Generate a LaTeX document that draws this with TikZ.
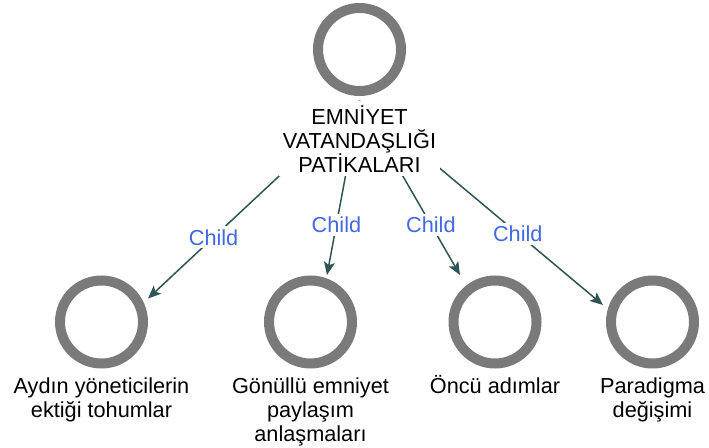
\documentclass[tikz,border=0pt]{standalone}
\usepackage{fontspec}
\setmainfont{Liberation Sans}
\usetikzlibrary{arrows.meta,backgrounds}
\definecolor{ringgray}{RGB}{122,122,122}
\definecolor{linkteal}{RGB}{47,84,84}
\definecolor{childblue}{RGB}{65,105,225}
\newcommand{\capstrut}{\rule{0pt}{18bp}}
\begin{document}
\begin{tikzpicture}[x=1bp,y=-1bp,
  ring/.style={circle,draw=ringgray,line width=10bp,minimum size=83bp,inner sep=0pt},
  caption/.style={anchor=north,align=center,inner sep=0pt,
    font=\fontsize{21.7bp}{24bp}\selectfont,yshift=-6.5bp},
  link/.style={draw=linkteal,line width=1.5bp,
    -{Stealth[length=13bp,width=11bp,inset=3bp]}},
  tag/.style={fill=white,text=childblue,inner sep=3bp,pos=0.7,
    font=\fontsize{21.7bp}{24bp}\selectfont}]
\useasboundingbox (0,0) rectangle (709,448);

% root
\node[ring] (c0) at (359.5,49.5) {};
\node[caption,fill=white,inner sep=4bp,yshift=1.5bp] (l0) at (c0.south)
  {\capstrut EMNİYET\\VATANDAŞLIĞI\\PATİKALARI};

% children
\node[ring] (c1) at (101.5,322) {};
\node[ring] (c2) at (310.5,322) {};
\node[ring] (c3) at (495,322) {};
\node[ring] (c4) at (652.5,322) {};

\node[caption] (l1) at (c1.south) {\capstrut Aydın yöneticilerin\\ektiği tohumlar};
\node[caption] (l2) at (c2.south) {\capstrut Gönüllü emniyet\\paylaşım\\anlaşmaları};
\node[caption] (l3) at (c3.south) {\capstrut Öncü adımlar};
\node[caption] (l4) at (c4.south) {\capstrut Paradigma\\değişimi};

% links, kept behind the root caption
\begin{scope}[on background layer]
\draw[link] (l0.north) -- node[tag,pos=0.69]{Child} ([shift={(46.5,-23.5)}]c1.center);
\draw[link] (l0.north) -- node[tag,pos=0.71]{Child} ([shift={(16.5,-47)}]c2.center);
\draw[link] (l0.north) -- node[tag,pos=0.71]{Child} ([shift={(-35,-47)}]c3.center);
\draw[link] (l0.north) -- node[tag,pos=0.65]{Child} ([shift={(-49.5,-17)}]c4.center);
\end{scope}
\end{tikzpicture}
\end{document}
